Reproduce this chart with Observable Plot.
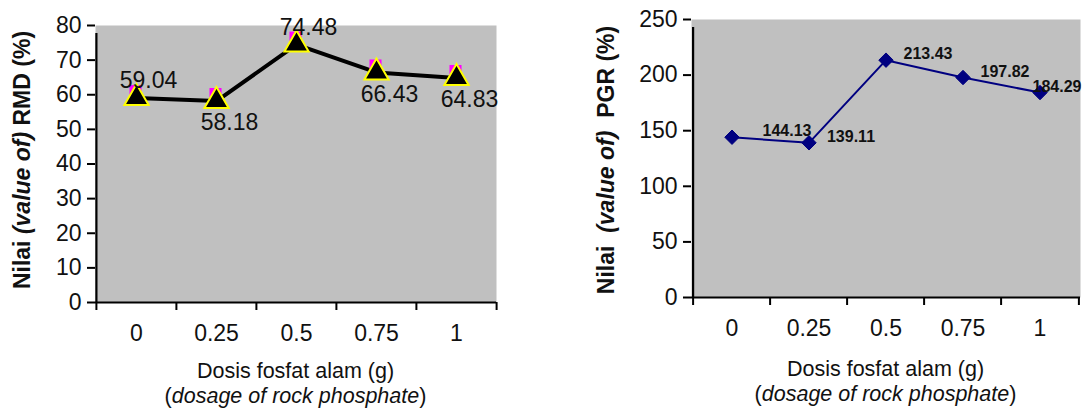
<!DOCTYPE html>
<html><head><meta charset="utf-8">
<script src="https://cdn.jsdelivr.net/npm/d3@7"></script>
<script src="https://cdn.jsdelivr.net/npm/@observablehq/plot@0.6"></script>
<style>
body{margin:0;background:#fff;}
#wrap{position:relative;width:1083px;height:409px;overflow:hidden;}
#left{position:absolute;left:0;top:0;}
#right{position:absolute;left:540px;top:0;}
svg{overflow:visible}
</style></head><body><div id="wrap"><div id="left"></div><div id="right"></div></div>
<script>
const doses = ["0", "0.25", "0.5", "0.75", "1"];
const rmdValues = [59.04, 58.18, 74.48, 66.43, 64.83];
const pgrValues = [144.13, 139.11, 213.43, 197.82, 184.29];
const rmdTicks = [0, 10, 20, 30, 40, 50, 60, 70, 80];
const pgrTicks = [0, 50, 100, 150, 200, 250];

const rmd = doses.map((dose, i) => ({dose, value: rmdValues[i]}));
const pgr = doses.map((dose, i) => ({dose, value: pgrValues[i]}));

const FONT = "'Liberation Sans', Arial, sans-serif";

function axisMarks(data, ticks, yMax, bw, tickFont) {
  return [
    Plot.frame({fill: "#c0c0c0", stroke: "none"}),
    Plot.axisY({ticks, tickSize: 8, tickPadding: 6, fontSize: tickFont, label: null, stroke: "black", strokeWidth: 2}),
    Plot.axisX({tickSize: 0, tickPadding: 22, fontSize: tickFont, label: null}),
    Plot.ruleY([0], {stroke: "black", strokeWidth: 2.2}),
    Plot.ruleX([data[0]], {x: "dose", y1: 0, y2: yMax, dx: -bw / 2, insetBottom: -8, stroke: "black", strokeWidth: 2.2}),
    Plot.ruleX(data, {x: "dose", y1: 0, y2: 0, dx: -bw / 2, insetBottom: -8, stroke: "black", strokeWidth: 2}),
    Plot.ruleX([data[data.length - 1]], {x: "dose", y1: 0, y2: 0, dx: bw / 2, insetBottom: -8, stroke: "black", strokeWidth: 2})
  ];
}

function addTitles(svgNode, yx, yy, yParts, xCenter, xBase, sizeY, sizeX) {
  const svg = d3.select(svgNode);
  const yt = svg.append("text")
    .attr("transform", `translate(${yx},${yy}) rotate(-90)`)
    .attr("text-anchor", "middle").attr("font-size", sizeY).attr("font-weight", "bold")
    .attr("font-family", FONT).attr("fill", "#111").style("white-space", "pre");
  yParts.forEach(([t, it]) => yt.append("tspan").attr("font-style", it ? "italic" : "normal").text(t));
  svg.append("text").attr("x", xCenter).attr("y", xBase).attr("text-anchor", "middle")
    .attr("font-size", sizeX).attr("font-family", FONT).attr("fill", "#111")
    .text("Dosis fosfat alam (g)");
  const l2 = svg.append("text").attr("x", xCenter).attr("y", xBase + 25).attr("text-anchor", "middle")
    .attr("font-size", sizeX).attr("font-family", FONT).attr("fill", "#111").style("white-space", "pre");
  l2.append("tspan").text("(");
  l2.append("tspan").attr("font-style", "italic").text("dosage of rock phosphate");
  l2.append("tspan").text(")");
}

// Left chart: RMD
{
  const W = 540, H = 409, ml = 95, mr = 44, mt = 25, mb = 107;
  const bw = (W - ml - mr) / doses.length;
  const fmt = d => d.value.toFixed(2);
  const chart = Plot.plot({
    width: W, height: H, marginLeft: ml, marginRight: mr, marginTop: mt, marginBottom: mb,
    style: {fontFamily: FONT, color: "#111", background: "transparent", overflow: "visible"},
    x: {type: "band", domain: doses, padding: 0},
    y: {domain: [0, 80]},
    marks: [
      ...axisMarks(rmd, rmdTicks, 80, bw, 23),
      Plot.line(rmd, {x: "dose", y: "value", stroke: "black", strokeWidth: 4}),
      Plot.dot(rmd, {x: "dose", y: "value", symbol: "square", r: 6.8, fill: "#ff00ff", stroke: "none", dx: -1, dy: -7}),
      Plot.dot(rmd, {x: "dose", y: "value", symbol: "triangle", r: 9, fill: "black", stroke: "#ffff00", strokeWidth: 2}),
      Plot.text(rmd, {filter: (d, i) => i === 0 || i === 2, x: "dose", y: "value", text: fmt, dx: 12, dy: -17, fontSize: 23, fill: "#111"}),
      Plot.text(rmd, {filter: (d, i) => i === 1 || i === 3 || i === 4, x: "dose", y: "value", text: fmt, dx: 13, dy: 22, fontSize: 23, fill: "#111"})
    ]
  });
  document.getElementById("left").appendChild(chart);
  addTitles(chart, 30, 160, [["Nilai ", false], ["(value of)", true], [" RMD (%)", false]], ml + (W - ml - mr) / 2, 378, 23, 21.5);
}

// Right chart: PGR
{
  const W = 543, H = 409, ml = 151, mr = 3, mt = 19, mb = 112;
  const bw = (W - ml - mr) / doses.length;
  const fmt = d => d.value.toFixed(2);
  const lab = {x: "dose", y: "value", text: fmt, dy: -6, fontSize: 16, fontWeight: "bold", fill: "#111"};
  const chart = Plot.plot({
    width: W, height: H, marginLeft: ml, marginRight: mr, marginTop: mt, marginBottom: mb,
    style: {fontFamily: FONT, color: "#111", background: "transparent", overflow: "visible"},
    x: {type: "band", domain: doses, padding: 0},
    y: {domain: [0, 250]},
    marks: [
      ...axisMarks(pgr, pgrTicks, 250, bw, 23),
      Plot.line(pgr, {x: "dose", y: "value", stroke: "#000080", strokeWidth: 2}),
      Plot.dot(pgr, {x: "dose", y: "value", symbol: "diamond2", r: 6.5, fill: "#000080", stroke: "#000080", strokeWidth: 1}),
      Plot.text(pgr, {...lab, filter: (d, i) => i === 0, dx: 55}),
      Plot.text(pgr, {...lab, filter: (d, i) => i >= 1 && i <= 3, dx: 42}),
      Plot.text(pgr, {...lab, filter: (d, i) => i === 4, dx: 17})
    ]
  });
  document.getElementById("right").appendChild(chart);
  addTitles(chart, 74, 160, [["Nilai  ", false], ["(value of)", true], ["  PGR (%)", false]], ml + (W - ml - mr) / 2, 376, 23, 21.5);
}
</script>
</body></html>
